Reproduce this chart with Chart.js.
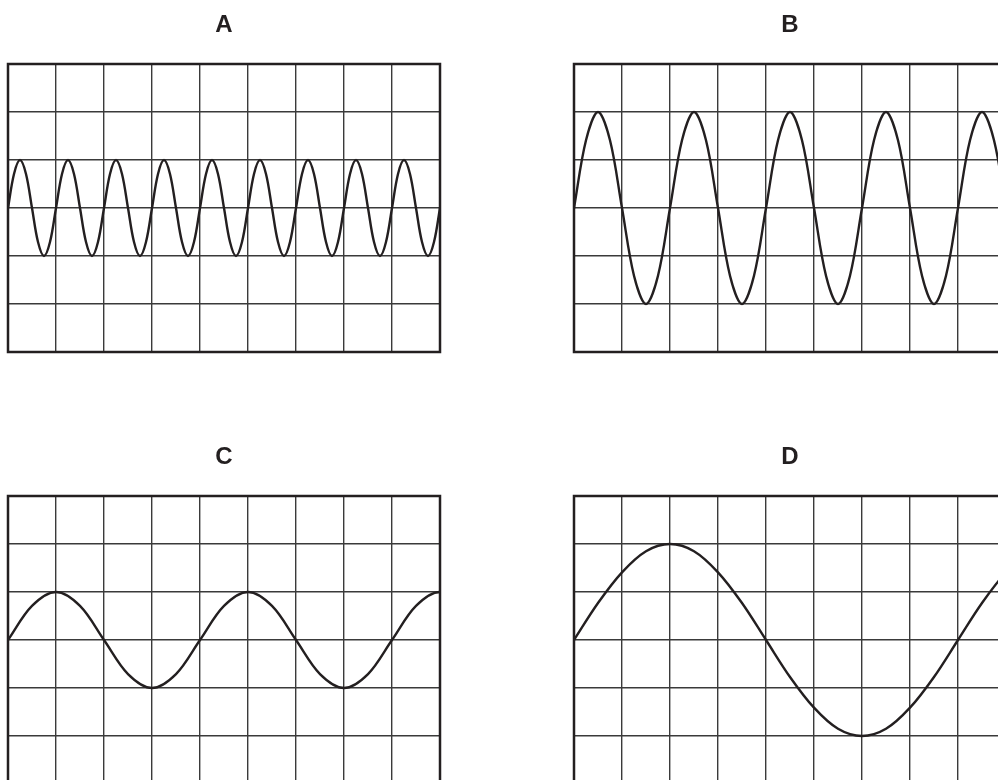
<!DOCTYPE html>
<html>
<head>
<meta charset="utf-8">
<script src="https://cdn.jsdelivr.net/npm/chart.js@4/dist/chart.umd.min.js"></script>
<style>
    html, body { margin: 0; padding: 0; background: #fff; width: 998px; height: 780px; overflow: hidden; }
    canvas { position: absolute; }
</style>
</head>
<body>
<canvas id="panelA" width="448" height="360" style="left:0;top:0"></canvas>
<canvas id="panelB" width="448" height="360" style="left:566px;top:0"></canvas>
<canvas id="panelC" width="448" height="360" style="left:0;top:432px"></canvas>
<canvas id="panelD" width="448" height="360" style="left:566px;top:432px"></canvas>
<script>
// grid: 9 divisions across, 6 divisions high (zero line in the middle)
const xDivisions = [0, 9];
const yDivisions = [-3, 3];

// traces run a little past both screen edges so the curve enters and leaves smoothly

// A: 1 division per cycle, 1 division high
const timeA = [
    -.125,
    0, .125, .25, .375, .5, .625, .75, .875,
    1, 1.125, 1.25, 1.375, 1.5, 1.625, 1.75, 1.875,
    2, 2.125, 2.25, 2.375, 2.5, 2.625, 2.75, 2.875,
    3, 3.125, 3.25, 3.375, 3.5, 3.625, 3.75, 3.875,
    4, 4.125, 4.25, 4.375, 4.5, 4.625, 4.75, 4.875,
    5, 5.125, 5.25, 5.375, 5.5, 5.625, 5.75, 5.875,
    6, 6.125, 6.25, 6.375, 6.5, 6.625, 6.75, 6.875,
    7, 7.125, 7.25, 7.375, 7.5, 7.625, 7.75, 7.875,
    8, 8.125, 8.25, 8.375, 8.5, 8.625, 8.75, 8.875,
    9, 9.125
];
const voltsA = [
    -.71,
    0, .71, 1, .71, 0, -.71, -1, -.71,
    0, .71, 1, .71, 0, -.71, -1, -.71,
    0, .71, 1, .71, 0, -.71, -1, -.71,
    0, .71, 1, .71, 0, -.71, -1, -.71,
    0, .71, 1, .71, 0, -.71, -1, -.71,
    0, .71, 1, .71, 0, -.71, -1, -.71,
    0, .71, 1, .71, 0, -.71, -1, -.71,
    0, .71, 1, .71, 0, -.71, -1, -.71,
    0, .71, 1, .71, 0, -.71, -1, -.71,
    0, .71
];

// B: 2 divisions per cycle, 2 divisions high
const timeB = [
    -.25,
    0, .25, .5, .75, 1, 1.25, 1.5, 1.75,
    2, 2.25, 2.5, 2.75, 3, 3.25, 3.5, 3.75,
    4, 4.25, 4.5, 4.75, 5, 5.25, 5.5, 5.75,
    6, 6.25, 6.5, 6.75, 7, 7.25, 7.5, 7.75,
    8, 8.25, 8.5, 8.75, 9, 9.25
];
const voltsB = [
    -1.41,
    0, 1.41, 2, 1.41, 0, -1.41, -2, -1.41,
    0, 1.41, 2, 1.41, 0, -1.41, -2, -1.41,
    0, 1.41, 2, 1.41, 0, -1.41, -2, -1.41,
    0, 1.41, 2, 1.41, 0, -1.41, -2, -1.41,
    0, 1.41, 2, 1.41, 0, -1.41
];

// C: 4 divisions per cycle, 1 division high
const timeC = [-.5, 0, .5, 1, 1.5, 2, 2.5, 3, 3.5, 4, 4.5, 5, 5.5, 6, 6.5, 7, 7.5, 8, 8.5, 9, 9.5];
const voltsC = [-.71, 0, .71, 1, .71, 0, -.71, -1, -.71, 0, .71, 1, .71, 0, -.71, -1, -.71, 0, .71, 1, .71];

// D: 8 divisions per cycle, 2 divisions high
const timeD = [-.5, 0, .5, 1, 1.5, 2, 2.5, 3, 3.5, 4, 4.5, 5, 5.5, 6, 6.5, 7, 7.5, 8, 8.5, 9, 9.5];
const voltsD = [-.77, 0, .77, 1.41, 1.85, 2, 1.85, 1.41, .77, 0, -.77, -1.41, -1.85, -2, -1.85, -1.41, -.77, 0, .77, 1.41, 1.85];

const ink = "#231f20";

// heavy frame round the screen
const framePlugin = {
    id: "frame",
    afterDatasetsDraw(chart) {
        const a = chart.chartArea;
        const ctx = chart.ctx;
        ctx.save();
        ctx.strokeStyle = ink;
        ctx.lineWidth = 2.5;
        ctx.strokeRect(a.left, a.top, a.right - a.left, a.bottom - a.top);
        ctx.restore();
    }
};

function scopePanel(id, name, time, volts) {
    const grid = { color: "#3a3a3a", lineWidth: 1.4, drawTicks: false };
    new Chart(document.getElementById(id), {
        type: "line",
        data: {
            datasets: [{
                data: time.map((t, i) => ({ x: t, y: volts[i] })),
                borderColor: ink,
                borderWidth: 2.4,
                pointRadius: 0,
                tension: 0.34,
                fill: false
            }]
        },
        options: {
            responsive: false,
            animation: false,
            layout: { padding: { left: 8, right: 8, top: 0, bottom: 8 } },
            plugins: {
                legend: { display: false },
                tooltip: { enabled: false },
                title: {
                    display: true,
                    text: name,
                    color: ink,
                    font: { family: "'Liberation Sans', Arial, sans-serif", size: 24, weight: "bold", lineHeight: 1.2 },
                    padding: { top: 11, bottom: 24.2 }
                }
            },
            scales: {
                x: {
                    type: "linear",
                    min: xDivisions[0], max: xDivisions[1],
                    ticks: { display: false, stepSize: 1 },
                    grid: grid,
                    border: { display: false }
                },
                y: {
                    min: yDivisions[0], max: yDivisions[1],
                    ticks: { display: false, stepSize: 1 },
                    grid: grid,
                    border: { display: false }
                }
            }
        },
        plugins: [framePlugin]
    });
}

document.addEventListener("DOMContentLoaded", function () {
    scopePanel("panelA", "A", timeA, voltsA);
    scopePanel("panelB", "B", timeB, voltsB);
    scopePanel("panelC", "C", timeC, voltsC);
    scopePanel("panelD", "D", timeD, voltsD);
});
</script>
</body>
</html>
